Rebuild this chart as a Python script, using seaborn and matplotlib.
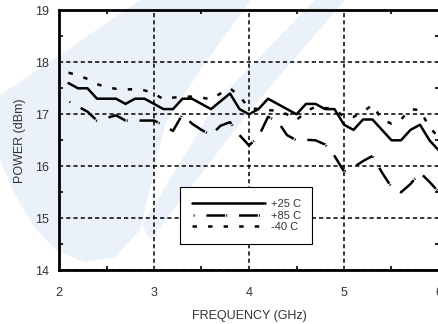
import numpy as np
import pandas as pd
import matplotlib
matplotlib.use("Agg")
import matplotlib.pyplot as plt
from matplotlib.patches import Polygon
import seaborn as sns

# output power vs frequency, three temperatures
freq = [2.1, 2.2, 2.3, 2.4, 2.5, 2.6, 2.7, 2.8, 2.9, 3.0,
        3.1, 3.2, 3.3, 3.4, 3.5, 3.6, 3.7, 3.8, 3.9, 4.0,
        4.1, 4.2, 4.3, 4.4, 4.5, 4.6, 4.7, 4.8, 4.9, 5.0,
        5.1, 5.2, 5.3, 5.4, 5.5, 5.6, 5.7, 5.8, 5.9, 6.0]
p_25 = [17.60, 17.50, 17.50, 17.30, 17.30, 17.30, 17.20, 17.30, 17.30, 17.20,
        17.10, 17.10, 17.30, 17.30, 17.20, 17.10, 17.25, 17.40, 17.10, 17.00,
        17.10, 17.30, 17.20, 17.10, 17.00, 17.20, 17.20, 17.10, 17.10, 16.80,
        16.70, 16.90, 16.90, 16.70, 16.50, 16.50, 16.70, 16.80, 16.50, 16.30]
p_85 = [17.25, 17.15, 17.05, 16.88, 16.93, 16.98, 16.88, 16.88, 16.88, 16.88,
        16.79, 16.68, 17.00, 16.82, 16.70, 16.60, 16.78, 16.85, 16.60, 16.40,
        16.57, 16.95, 16.87, 16.60, 16.50, 16.51, 16.50, 16.42, 16.20, 15.90,
        15.98, 16.10, 16.20, 15.88, 15.60, 15.50, 15.66, 15.88, 15.70, 15.50]
p_m40 = [17.80, 17.75, 17.68, 17.58, 17.52, 17.49, 17.48, 17.48, 17.46, 17.40,
         17.29, 17.32, 17.34, 17.34, 17.32, 17.29, 17.40, 17.50, 17.35, 17.12,
         17.10, 17.08, 17.07, 17.00, 16.89, 17.05, 17.15, 17.12, 17.10, 16.95,
         16.95, 17.05, 17.18, 16.90, 16.82, 16.90, 17.10, 17.08, 16.75, 16.55]
labels = ["+25 C", "+85 C", "-40 C"]

sns.set_style("white")
plt.rcParams['font.family'] = ['Liberation Sans', 'DejaVu Sans']
plt.rcParams['lines.scale_dashes'] = False

W, H = 438, 324
fig = plt.figure(figsize=(W / 100, H / 100), dpi=100)
fig.patch.set_facecolor("white")

# faint logo watermark behind everything (pixel coords, y down)
def px(pts):
    return [(x / W, 1 - y / H) for x, y in pts]

wm = "#eaf1f9"
arm_left = [(140, 0), (251, 0), (200, 70), (165, 125), (152, 180), (140, 230),
            (115, 257), (85, 262), (58, 252), (35, 228), (15, 195), (0, 160),
            (0, 95), (60, 55)]
arm_right = [(315, 0), (345, 0), (250, 110), (185, 195), (150, 240),
             (142, 225), (218, 100)]
for pts in (arm_left, arm_right):
    fig.patches.append(Polygon(px(pts), closed=True, transform=fig.transFigure,
                               fc=wm, ec="none", zorder=-5))

ax = fig.add_axes([59 / W, 1 - 270.3 / H, 380 / W, 260 / H])
ax.patch.set_alpha(0)
ax.set_zorder(2)

lw = 1.8
sns.lineplot(x=freq, y=p_25, ax=ax, color="black", lw=lw, label=labels[0])
sns.lineplot(x=freq, y=p_85, ax=ax, color="black", lw=lw, label=labels[1],
             linestyle=(13.5, (13.5, 0.8, 0.7, 8.5)), dash_capstyle="butt")
sns.lineplot(x=freq, y=p_m40, ax=ax, color="black", lw=lw, label=labels[2],
             linestyle=(0, (3.2, 8.0)), dash_capstyle="butt")

ax.set_xlim(2, 6)
ax.set_ylim(14, 19)
ax.set_xticks([2, 3, 4, 5, 6])
ax.set_yticks([14, 15, 16, 17, 18, 19])
ax.set_xticks([2.5, 3.5, 4.5, 5.5], minor=True)
ax.set_yticks([14.5, 15.5, 16.5, 17.5, 18.5], minor=True)
ax.grid(True, which="major", color="black", lw=1.1, linestyle=(0, (3.0, 2.2)))
ax.set_axisbelow(True)

for s in ax.spines.values():
    s.set_visible(True)
    s.set_color("black")
    s.set_linewidth(2.0)

ax.tick_params(which="major", length=0, labelsize=9, labelcolor="#333333")
ax.tick_params(axis="x", which="major", pad=12)
ax.tick_params(axis="y", which="major", pad=7)
ax.tick_params(which="minor", direction="in", length=3, width=1.2, color="black",
               top=True, right=True, bottom=True, left=True)

ax.set_xlabel("FREQUENCY (GHz)", fontsize=9, color="#333333", labelpad=8)
ax.set_ylabel("POWER (dBm)", fontsize=9, color="#333333", labelpad=7)

leg = ax.legend(loc="upper left", bbox_to_anchor=(121 / 380, 1 - 177 / 260),
                fontsize=8, frameon=True, fancybox=False, handlelength=6.6,
                handletextpad=0.5, labelspacing=0.15, borderpad=1.05,
                borderaxespad=0)
leg.get_frame().set_edgecolor("black")
leg.get_frame().set_linewidth(0.8)
leg.get_frame().set_facecolor("white")
leg.get_frame().set_alpha(1)
for t in leg.get_texts():
    t.set_color("#333333")

fig.savefig("out.png", dpi=100)
